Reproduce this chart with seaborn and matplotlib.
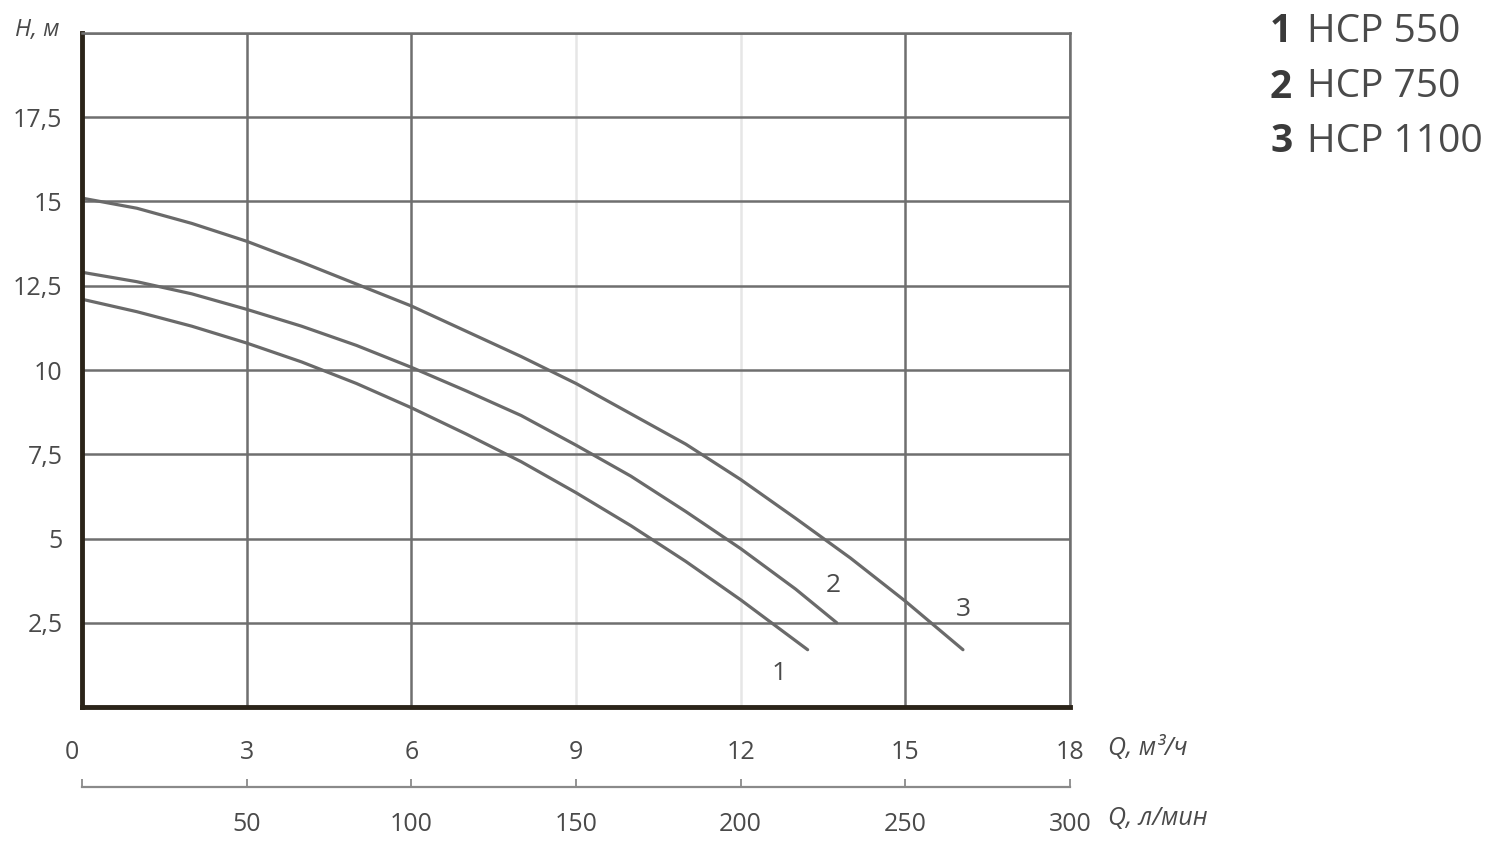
"""Pump performance curves H(Q) for HCP 550 / 750 / 1100."""
import matplotlib
matplotlib.use("Agg")
import matplotlib.pyplot as plt
import matplotlib.transforms as mtransforms
import pandas as pd
import seaborn as sns

# curve data (Q in m3/h, H in m)
q_550 = [0, 1, 2, 3, 4, 5, 6, 7, 8, 9, 10, 11, 12, 13.22]
h_550 = [12.1, 11.73, 11.3, 10.8, 10.24, 9.6, 8.88, 8.1, 7.28, 6.36, 5.38, 4.32, 3.18, 1.7]
q_750 = [0, 1, 2, 3, 4, 5, 6, 7, 8, 9, 10, 11, 12, 13, 13.75]
h_750 = [12.9, 12.62, 12.26, 11.8, 11.3, 10.73, 10.08, 9.38, 8.65, 7.77, 6.85, 5.8, 4.7, 3.5, 2.5]
q_1100 = [0, 1, 2, 3, 4, 5, 6, 7, 8, 9, 10, 11, 12, 13, 14, 15, 16.05]
h_1100 = [15.1, 14.8, 14.35, 13.82, 13.2, 12.55, 11.9, 11.15, 10.4, 9.6, 8.7, 7.8, 6.75,
          5.6, 4.42, 3.14, 1.7]

curve_ids = ["1", "2", "3"]
curve_names = ["HCP 550", "HCP 750", "HCP 1100"]
label_q = [12.7, 13.68, 16.05]
label_h = [1.0, 3.62, 2.88]

x_ticks = [0, 3, 6, 9, 12, 15, 18]
y_ticks = [2.5, 5, 7.5, 10, 12.5, 15, 17.5]
y_tick_labels = ["2,5", "5", "7,5", "10", "12,5", "15", "17,5"]
lpm_ticks = [0, 50, 100, 150, 200, 250, 300]
lpm_labels = ["", "50", "100", "150", "200", "250", "300"]

df = pd.concat([
    pd.DataFrame({"Q": q, "H": h, "pump": cid})
    for q, h, cid in zip([q_550, q_750, q_1100], [h_550, h_750, h_1100], curve_ids)
])

sns.set_style("white")
plt.rcParams["font.family"] = ["Open Sans", "DejaVu Sans"]

TEXT = "#4a4a4a"
GRID = "#6f6f6f"
LIGHT = "#e6e6e6"

fig = plt.figure(figsize=(15, 8.47), dpi=100)
ax = fig.add_axes([82 / 1500, 1 - 707 / 847, (1070 - 82) / 1500, (707 - 33) / 847])

sns.lineplot(data=df, x="Q", y="H", hue="pump", palette=["#6a6a6a"] * 3,
             sort=False, estimator=None, legend=False, linewidth=2.3, ax=ax)

ax.set_xlim(0, 18)
ax.set_ylim(0, 20)
ax.set_xticks(x_ticks)
ax.set_yticks(y_ticks + [20])
ax.set_yticklabels(y_tick_labels + [""])
ax.set_xlabel("")
ax.set_ylabel("")
ax.tick_params(axis="x", length=0, pad=24, labelsize=18, labelcolor=TEXT)
ax.tick_params(axis="y", length=0, pad=14, labelsize=18, labelcolor=TEXT)

# the "0" under the origin sits a little to the left
zero_lbl = ax.get_xticklabels()[0]
zero_lbl.set_transform(zero_lbl.get_transform()
                       + mtransforms.ScaledTranslation(-10 / 100, 0, fig.dpi_scale_trans))

ax.grid(True, color=GRID, linewidth=1.8)
ax.set_axisbelow(True)
for i, line in enumerate(ax.get_xgridlines()):
    if x_ticks[i] in (9, 12):
        line.set_color(LIGHT)

for side in ("left", "bottom"):
    ax.spines[side].set_color("#2b2419")
    ax.spines[side].set_linewidth(3.5)
for side in ("top", "right"):
    ax.spines[side].set_color(GRID)
    ax.spines[side].set_linewidth(1.8)

# curve numbers
for cid, lq, lh in zip(curve_ids, label_q, label_h):
    ax.text(lq, lh, cid, fontsize=19, color=TEXT, ha="center", va="center")

# secondary scale in l/min
sec = ax.secondary_xaxis(-80 / 674, functions=(lambda q: q * 1000 / 60,
                                               lambda l: l * 60 / 1000))
sec.set_xticks(lpm_ticks)
sec.set_xticklabels(lpm_labels)
sec.tick_params(direction="in", length=6, width=1.3, color="#8a8a8a",
                pad=18, labelsize=18, labelcolor=TEXT)
sec.spines["bottom"].set_color("#8a8a8a")
sec.spines["bottom"].set_linewidth(1.6)
for val, tl in zip(lpm_ticks, sec.xaxis.get_major_ticks()):
    if val in (150, 200):
        tl.tick1line.set_color(LIGHT)

# axis names
fig.text(15 / 1500, 1 - 30 / 847, "H, м", fontsize=17, style="italic",
         color=TEXT, va="center")
fig.text(1108 / 1500, 1 - 748 / 847, "Q, м³/ч", fontsize=18, style="italic",
         color=TEXT, va="center")
fig.text(1108 / 1500, 1 - 818 / 847, "Q, л/мин", fontsize=18, style="italic",
         color=TEXT, va="center")

# legend block
for i, (cid, name) in enumerate(zip(curve_ids, curve_names)):
    y = 1 - (32 + i * 55) / 847
    fig.text(1270 / 1500, y, cid, fontsize=28, fontweight="bold",
             color="#3a3a3a", va="center")
    fig.text(1307 / 1500, y, name, fontsize=28, color=TEXT, va="center")

fig.savefig("out.png", dpi=100, facecolor="white")
